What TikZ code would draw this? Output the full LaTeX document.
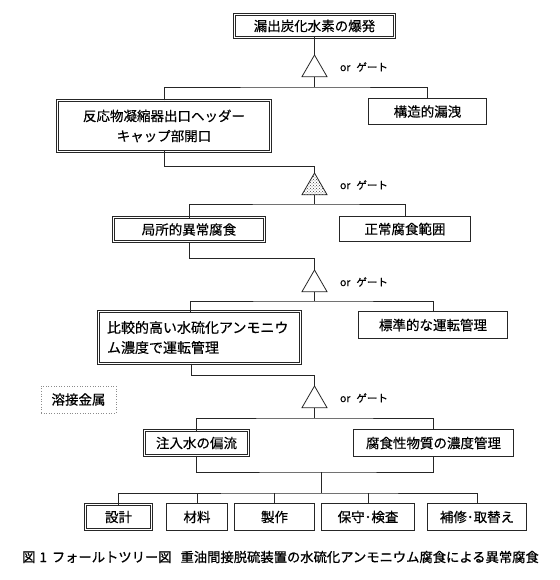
\documentclass[tikz,border=0pt]{standalone}
\usepackage{fontspec}
\setmainfont{Noto Sans CJK JP}[FakeBold=0.4]
\newfontfamily\capfont{Noto Sans CJK JP}[FakeBold=0.9]
\usetikzlibrary{shapes.geometric,patterns,calc}
\begin{document}
\begin{tikzpicture}[x=1pt,y=-1pt,
  line width=0.8pt, draw=black!85,
  every node/.style={font=\fontsize{13.5}{20}\selectfont, inner sep=0pt, outer sep=0pt, text=black},
  sbox/.style={draw=black!85, align=center, fill=white},
  dbox/.style={draw=black!85, double=white, double distance=1.4pt, align=center},
  dotbox/.style={draw=black!45, dotted, line width=0.6pt, align=center},
  gate/.style={draw=black!85, regular polygon, regular polygon sides=3, minimum size=28.9pt, anchor=north},
  orlbl/.style={font=\fontsize{10.5}{12}\selectfont, anchor=west},
  caption/.style={font=\capfont\fontsize{13.3}{15}\selectfont}
]
\useasboundingbox (0,0) rectangle (559,580);

% boxes
\node[dbox, minimum width=160pt, minimum height=23pt] (B1) at (314.5,26) {漏出炭化水素の爆発};
\node[dbox, minimum width=213pt, minimum height=51pt] (B2) at (164,126) {反応物凝縮器出口ヘッダー\\キャップ部開口};
\node[sbox, minimum width=118pt, minimum height=26pt] (B3) at (427.5,111.5) {構造的漏洩};
\node[dbox, minimum width=151pt, minimum height=24pt] (B4) at (189,229.5) {局所的異常腐食};
\node[sbox, minimum width=131pt, minimum height=25pt] (B5) at (405,229) {正常腐食範囲};
\node[dbox, inner xsep=8.5pt, text width=185pt, align=left, minimum height=52pt, font=\fontsize{14}{20}\selectfont] (B6) at (199.5,337.5) {比較的高い水硫化アンモニウ\\ム濃度で運転管理};
\node[sbox, minimum width=149pt, minimum height=27pt] (B7) at (433,325) {標準的な運転管理};
\node[dotbox, minimum width=75pt, minimum height=27pt] (B8) at (78.5,399.5) {溶接金属};
\node[dbox, minimum width=104pt, minimum height=25pt] (B9) at (196.5,443) {注入水の偏流};
\node[sbox, minimum width=160pt, minimum height=27pt] (B10) at (433.5,443) {腐食性物質の濃度管理};
\node[dbox, minimum width=66pt, minimum height=25pt] (B11) at (118.5,517) {設計};
\node[sbox, minimum width=61pt, minimum height=27pt] (B12) at (197,517) {材料};
\node[sbox, minimum width=80pt, minimum height=27pt] (B13) at (274.5,517) {製作};
\node[sbox, minimum width=93pt, minimum height=27pt] (B14) at (368,517) {保守･検査};
\node[sbox, minimum width=99pt, minimum height=27pt] (B15) at (477,517) {補修･取替え};

% gates
\node[gate, fill=white] (G1) at (314.5,55) {};
\node[gate, pattern=crosshatch dots, pattern color=black!75] (G2) at (314.5,173) {};
\node[gate, fill=white] (G3) at (314.5,270) {};
\node[gate, fill=white] (G4) at (314.5,386) {};

\node[orlbl] (L1) at (340,67) {or\hspace{6pt}ゲート};
\node[orlbl] (L2) at (340,185) {or\hspace{6pt}ゲート};
\node[orlbl] (L3) at (340,282) {or\hspace{6pt}ゲート};
\node[orlbl] (L4) at (340,398) {or\hspace{6pt}ゲート};

% junction coordinates
\coordinate (j1) at (314.5,87);
\coordinate (j2) at (314.5,166);
\coordinate (j3) at (314.5,204);
\coordinate (j4) at (314.5,258);
\coordinate (j5) at (314.5,301);
\coordinate (j6) at (314.5,375);
\coordinate (j7) at (314.5,418);
\coordinate (j8) at (321,472);
\coordinate (j9) at (321,493);

% connectors
\draw (B1.south) -- (G1.north);
\draw (G1.south) -- (j1);
\draw (B2.north) |- (j1) -| (B3.north);
\draw (B2.south) |- (j2) -- (G2.north);
\draw (G2.south) -- (j3);
\draw (B4.north) |- (j3) -| (B5.north);
\draw (B4.south) |- (j4) -- (G3.north);
\draw (G3.south) -- (j5);
\draw ([xshift=-9.5pt]B6.north) |- (j5) -| (B7.north);
\draw ([xshift=-8.5pt]B6.south) |- (j6) -- (G4.north);
\draw (G4.south) -- (j7);
\draw (B9.north) |- (j7) -| (B10.north);
\draw (B9.south) |- (j8) -| (B10.south);
\draw (j8) -- (j9);
\draw (B11.north) |- (j9) -| (B15.north);
\draw (B12.north) -- (B12.north |- j9);
\draw (B13.north) -- (B13.north |- j9);
\draw (B14.north) -- (B14.north |- j9);

% caption
\node[caption] (cap) at (280.5,557) {図\hspace{4pt}1\hspace{5pt}フォールトツリー図\hspace{9pt}重油間接脱硫装置の水硫化アンモニウム腐食による異常腐食};
\end{tikzpicture}
\end{document}
